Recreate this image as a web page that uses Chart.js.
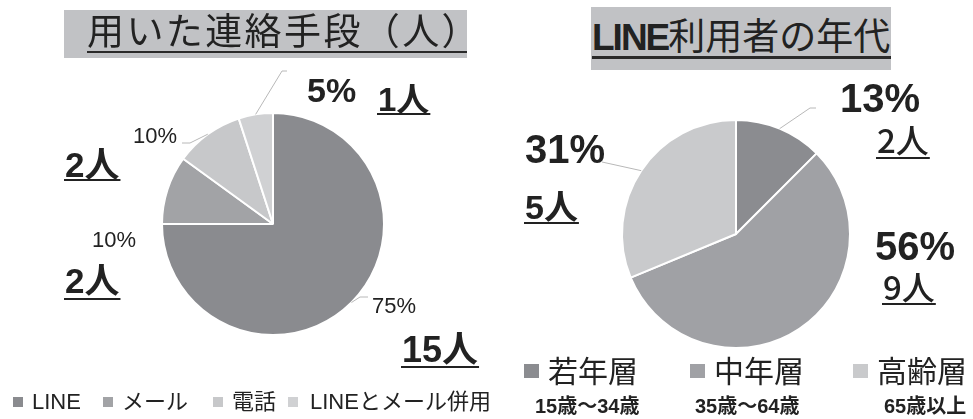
<!DOCTYPE html>
<html lang="ja">
<head>
<meta charset="utf-8">
<script src="https://cdn.jsdelivr.net/npm/chart.js@4"></script>
<style>
body { margin: 0; width: 973px; height: 419px; position: relative; background: #fff; overflow: hidden;
       font-family: "Liberation Sans", "Noto Sans CJK JP", sans-serif; color: #222; }
canvas { position: absolute; top: 0; }
#contact-chart { left: 0; }
#age-chart { left: 486px; }
.title { position: absolute; background: #c1c2c5; }
.title span { position: absolute; white-space: nowrap; line-height: 1; border-bottom: 2px solid #2a2a2a; }
.lg { position: absolute; white-space: nowrap; line-height: 1; }
.sw { position: absolute; }
</style>
</head>
<body>
<canvas id="contact-chart" width="486" height="419"></canvas>
<canvas id="age-chart" width="487" height="419"></canvas>

<div class="title" style="left:64px; top:10px; width:403px; height:48px;">
  <span style="left:23px; right:0; top:4px; font-size:37px; letter-spacing:2.4px;">用いた連絡手段（人）</span>
</div>
<div class="title" style="left:591px; top:7px; width:300px; height:63px;">
  <span style="left:1px; right:0; top:12px; font-size:37px; border-bottom-width:3px;"><b style="letter-spacing:-2px;">LINE</b>利用者の年代</span>
</div>

<script>
// 連絡手段のデータ
const contactLabels = ['LINE', 'メール', '電話', 'LINEとメール併用'];
const contactCounts = [15, 2, 2, 1];
const contactPercents = ['75%', '10%', '10%', '5%'];

// LINE利用者の年代
const ageLabels = ['若年層', '中年層', '高齢層'];
const ageRanges = ['15歳～34歳', '35歳～64歳', '65歳以上'];
const ageCounts = [2, 9, 5];
const agePercents = ['13%', '56%', '31%'];

const contactColors = ['#8a8b8f', '#a2a3a6', '#c7c8ca', '#d0d1d3'];
const ageColors = ['#8b8c90', '#a0a1a5', '#c9cacc'];

const FONT = '"Liberation Sans", "Noto Sans CJK JP", sans-serif';
const CJK = '"Noto Sans CJK JP", sans-serif';

// ラベル配置 (ページ座標)
const contactLabelLayout = [
    { pct: [372, 313], pctFont: '22px', cnt: [402, 362], cntFont: 'bold 36px', ul: 366, leader: [[360, 297], [368, 297]] },
    { pct: [92, 247], pctFont: '22px', cnt: [65, 293], cntFont: 'bold 35px', ul: 298 },
    { pct: [133, 143], pctFont: '22px', cnt: [65, 177], cntFont: 'bold 35px', ul: 179, leader: [[190, 143], [182, 143]] },
    { pct: [307, 102], pctFont: 'bold 34px', cnt: [378, 111], cntFont: 'bold 33px', ul: 113, leader: [[282, 71], [287, 71]] }
];
const ageLabelLayout = [
    { pct: [840, 112], pctFont: 'bold 40px', cnt: [877, 153], cntFont: '500 33px', cntFamily: CJK, ul: 157, leader: [[810, 108], [816, 108]] },
    { pct: [875, 260], pctFont: 'bold 40px', cnt: [883, 300], cntFont: '500 33px', cntFamily: CJK, ul: 303 },
    { pct: [525, 163], pctFont: 'bold 40px', cnt: [525, 219], cntFont: 'bold 34px', ul: 222, leader: [[602, 162]] }
];

// 円グラフのラベルと引き出し線
const pieLabelsPlugin = {
    id: 'pieLabels',
    afterDatasetsDraw(chart, args, opts) {
        const ctx = chart.ctx;
        const meta = chart.getDatasetMeta(0);
        const ox = opts.offsetX;
        opts.layout.forEach((it, i) => {
            const arc = meta.data[i];
            ctx.save();
            if (it.leader) {
                const mid = (arc.startAngle + arc.endAngle) / 2;
                ctx.strokeStyle = '#b8b8b8';
                ctx.lineWidth = 1;
                ctx.beginPath();
                ctx.moveTo(arc.x + Math.cos(mid) * arc.outerRadius, arc.y + Math.sin(mid) * arc.outerRadius);
                it.leader.forEach(p => ctx.lineTo(p[0] - ox, p[1]));
                ctx.stroke();
            }
            ctx.fillStyle = '#222';
            ctx.textBaseline = 'alphabetic';
            ctx.font = it.pctFont + ' ' + FONT;
            ctx.fillText(opts.percents[i], it.pct[0] - ox, it.pct[1]);
            const t = opts.counts[i] + '人';
            ctx.font = it.cntFont + ' ' + (it.cntFamily || FONT);
            ctx.fillText(t, it.cnt[0] - ox, it.cnt[1]);
            const w = ctx.measureText(t).width;
            ctx.fillRect(it.cnt[0] - ox - 1, it.ul, w + 2, 2);
            ctx.restore();
        });
    }
};

function makePie(id, labels, counts, colors, padding, labelOpts) {
    return new Chart(document.getElementById(id), {
        type: 'pie',
        data: {
            labels: labels,
            datasets: [{
                data: counts,
                backgroundColor: colors,
                borderColor: '#ffffff',
                borderWidth: 2,
                hoverOffset: 0
            }]
        },
        options: {
            responsive: false,
            animation: false,
            layout: { padding: padding },
            plugins: {
                legend: { display: false },
                tooltip: { enabled: false },
                pieLabels: labelOpts
            }
        },
        plugins: [pieLabelsPlugin]
    });
}

makePie('contact-chart', contactLabels, contactCounts, contactColors,
    { left: 161, right: 101, top: 112, bottom: 83 },
    { offsetX: 0, layout: contactLabelLayout, percents: contactPercents, counts: contactCounts });

makePie('age-chart', ageLabels, ageCounts, ageColors,
    { left: 135, right: 122, top: 119, bottom: 70 },
    { offsetX: 486, layout: ageLabelLayout, percents: agePercents, counts: ageCounts });

// 凡例
function addLegend(labels, colors, xs, textXs, sw, textY, fontSize) {
    labels.forEach((lab, i) => {
        const s = document.createElement('div');
        s.className = 'sw';
        s.style.cssText = `left:${xs[i]}px; top:${sw.y}px; width:${sw.w}px; height:${sw.h}px; background:${colors[i]};`;
        document.body.appendChild(s);
        const t = document.createElement('div');
        t.className = 'lg';
        t.textContent = lab;
        t.style.cssText = `left:${textXs[i]}px; top:${textY}px; font-size:${fontSize}px;`;
        document.body.appendChild(t);
    });
}

addLegend(contactLabels, contactColors, [13, 103, 213, 288], [32, 122, 232, 310], { y: 397, w: 10, h: 10 }, 391, 22);
addLegend(ageLabels, ageColors, [524, 690, 853], [548, 714, 877], { y: 364, w: 15, h: 14 }, 357, 30);

[535, 695, 884].forEach((x, i) => {
    const t = document.createElement('div');
    t.className = 'lg';
    t.textContent = ageRanges[i];
    t.style.cssText = `left:${x}px; top:396px; font-size:20px; font-weight:bold;`;
    document.body.appendChild(t);
});
</script>
</body>
</html>
